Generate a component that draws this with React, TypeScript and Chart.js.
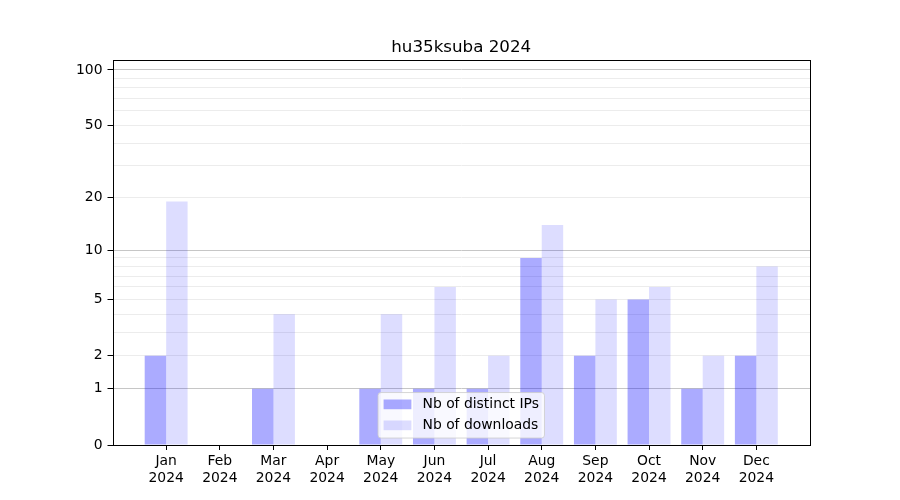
import React, { useEffect, useRef } from "react";
import { Chart, registerables, Scale } from "chart.js";

const TITLE = "hu35ksuba 2024";
const MONTHS = ["Jan", "Feb", "Mar", "Apr", "May", "Jun", "Jul", "Aug", "Sep", "Oct", "Nov", "Dec"];
const YEAR = "2024";
const DISTINCT_IPS = [2, 0, 1, 0, 1, 1, 1, 9, 2, 5, 1, 2];
const DOWNLOADS = [19, 0, 4, 0, 4, 6, 2, 14, 5, 6, 2, 8];
const SERIES_LABELS = ["Nb of distinct IPs", "Nb of downloads"];
const Y_LABELED_TICKS = [0, 1, 2, 5, 10, 20, 50, 100];
const Y_DECADE_GRID = [1, 10, 100];
const Y_MINOR_GRID = [2, 3, 4, 5, 6, 7, 8, 9, 20, 30, 40, 50, 60, 70, 80, 90];
const Y_MAX = 113.2;

const COLOR_IPS = "rgba(0, 0, 255, 0.33)";
const COLOR_DL = "rgba(0, 0, 255, 0.135)";
const FONT = "DejaVu Sans";
const FS = 13.9;

const Y_ALL_TICKS = Array.from(new Set([...Y_LABELED_TICKS, ...Y_DECADE_GRID, ...Y_MINOR_GRID])).sort((a, b) => a - b);

class Log1pScale extends Scale {
  static id = "log1p";
  static defaults = {};
  _startValue: number;
  _valueRange: number;

  determineDataLimits() {
    const { min, max } = (this as any).getMinMax(true);
    (this as any).min = Number.isFinite(min) ? min : 0;
    (this as any).max = Number.isFinite(max) ? max : 100;
  }
  buildTicks() {
    const self = this as any;
    return Y_ALL_TICKS.filter((v) => v >= self.min && v <= self.max).map((v) => ({ value: v }));
  }
  configure() {
    super.configure();
    const self = this as any;
    this._startValue = Math.log10(1 + self.min);
    this._valueRange = Math.log10(1 + self.max) - this._startValue;
  }
  getLabelForValue(value: number) {
    return String(value);
  }
  getPixelForValue(value: number) {
    const self = this as any;
    if (value === undefined || value === null || isNaN(value)) value = self.min;
    const v = Math.max(0, value);
    return self.getPixelForDecimal((Math.log10(1 + v) - this._startValue) / this._valueRange);
  }
  getValueForPixel(pixel: number) {
    const self = this as any;
    const d = self.getDecimalForPixel(pixel);
    return Math.pow(10, this._startValue + d * this._valueRange) - 1;
  }
}

Chart.register(...registerables, Log1pScale as any);

const framePlugin = {
  id: "frameAndLegend",
  afterDraw(chart: any) {
    const { ctx, chartArea } = chart;
    const { left, right, top, bottom } = chartArea;
    ctx.save();
    // spines
    ctx.strokeStyle = "#000";
    ctx.lineWidth = 1;
    ctx.strokeRect(Math.round(left) + 0.5, Math.round(top) + 0.5, Math.round(right) - Math.round(left), Math.round(bottom) - Math.round(top));

    // legend (matplotlib style)
    ctx.font = `${FS}px "${FONT}"`;
    const pad = 0.4 * FS;
    const handle = 2 * FS;
    const gap = 0.8 * FS;
    const textW = Math.max(...SERIES_LABELS.map((s) => ctx.measureText(s).width));
    const w = pad + handle + gap + textW + pad;
    const h = 45.5;
    const cx = (left + right) / 2;
    const x0 = cx - w / 2;
    const y0 = bottom - 0.5 * FS - h;
    const r = 3;
    ctx.beginPath();
    ctx.moveTo(x0 + r, y0);
    ctx.lineTo(x0 + w - r, y0);
    ctx.quadraticCurveTo(x0 + w, y0, x0 + w, y0 + r);
    ctx.lineTo(x0 + w, y0 + h - r);
    ctx.quadraticCurveTo(x0 + w, y0 + h, x0 + w - r, y0 + h);
    ctx.lineTo(x0 + r, y0 + h);
    ctx.quadraticCurveTo(x0, y0 + h, x0, y0 + h - r);
    ctx.lineTo(x0, y0 + r);
    ctx.quadraticCurveTo(x0, y0, x0 + r, y0);
    ctx.closePath();
    ctx.fillStyle = "rgba(255,255,255,0.8)";
    ctx.fill();
    ctx.strokeStyle = "rgba(204,204,204,0.8)";
    ctx.lineWidth = 1;
    ctx.stroke();

    const colors = [COLOR_IPS, COLOR_DL];
    const rowCenters = [y0 + 11.8, y0 + 32.8];
    SERIES_LABELS.forEach((label, i) => {
      const yc = rowCenters[i];
      ctx.fillStyle = colors[i];
      ctx.fillRect(x0 + pad, yc - 0.35 * FS, handle, 0.7 * FS);
      ctx.fillStyle = "#000";
      ctx.textBaseline = "middle";
      ctx.textAlign = "left";
      ctx.fillText(label, x0 + pad + handle + gap, yc);
    });
    ctx.restore();
  },
};

export default function App() {
  const canvasRef = useRef<HTMLCanvasElement | null>(null);

  useEffect(() => {
    if (!canvasRef.current) return;
    Chart.defaults.font.family = FONT;
    Chart.defaults.color = "#000";
    const chart = new Chart(canvasRef.current, {
      type: "bar",
      data: {
        datasets: [
          {
            label: SERIES_LABELS[0],
            data: DISTINCT_IPS.map((v, i) => ({ x: i + 1, y: v })),
            backgroundColor: COLOR_IPS,
            borderWidth: 0,
          },
          {
            label: SERIES_LABELS[1],
            data: DOWNLOADS.map((v, i) => ({ x: i + 1, y: v })),
            backgroundColor: COLOR_DL,
            borderWidth: 0,
          },
        ],
      },
      options: {
        responsive: false,
        animation: false,
        devicePixelRatio: 1,
        layout: { padding: { left: 0, right: 90, top: 0, bottom: 0 } },
        datasets: { bar: { categoryPercentage: 0.8, barPercentage: 1.0 } },
        plugins: {
          legend: { display: false },
          tooltip: { enabled: false },
          title: {
            display: true,
            text: TITLE,
            fullSize: false,
            color: "#000",
            font: { family: FONT, size: 16.7, weight: "normal", lineHeight: 1.2 },
            padding: { top: 37.5, bottom: 2.46 },
          },
        },
        scales: {
          x: {
            type: "linear",
            min: 0,
            max: 13,
            offset: false,
            border: { display: false },
            grid: {
              display: true,
              offset: false,
              drawOnChartArea: false,
              drawTicks: true,
              tickLength: 5,
              tickWidth: 1,
              tickColor: (ctx: any) => {
                const v = ctx.tick ? ctx.tick.value : -1;
                return v >= 1 && v <= 12 ? "#000" : "rgba(0,0,0,0)";
              },
            },
            ticks: {
              stepSize: 1,
              autoSkip: false,
              maxRotation: 0,
              minRotation: 0,
              padding: 3,
              color: "#000",
              font: { family: FONT, size: FS, lineHeight: 1.2 },
              callback: (v: any) => {
                const n = Number(v);
                return n >= 1 && n <= 12 && Number.isInteger(n) ? [MONTHS[n - 1], YEAR] : "";
              },
            },
            afterFit: (scale: any) => {
              scale.height = 55;
            },
          },
          y: {
            type: "log1p" as any,
            min: 0,
            max: Y_MAX,
            border: { display: false },
            grid: {
              display: true,
              offset: false,
              drawOnChartArea: true,
              drawTicks: true,
              tickLength: 5,
              lineWidth: 1,
              color: (ctx: any) => {
                const v = ctx.tick ? ctx.tick.value : -1;
                if (v === 0) return "rgba(0,0,0,0)";
                if (Y_DECADE_GRID.includes(v)) return "#c6c6c6";
                return "#ececec";
              },
              tickColor: (ctx: any) => {
                const v = ctx.tick ? ctx.tick.value : -1;
                return Y_LABELED_TICKS.includes(v) ? "#000" : "rgba(0,0,0,0)";
              },
            },
            ticks: {
              autoSkip: false,
              padding: 5,
              color: "#000",
              font: { family: FONT, size: FS },
              callback: (v: any) => (Y_LABELED_TICKS.includes(Number(v)) ? String(v) : ""),
            },
            afterFit: (scale: any) => {
              scale.width = 112.5;
            },
          },
        },
      } as any,
      plugins: [framePlugin],
    });
    return () => chart.destroy();
  }, []);

  return (
    <div style={{ position: "absolute", left: 0, top: 0, width: 900, height: 500 }}>
      <canvas ref={canvasRef} width={900} height={500} style={{ display: "block" }} />
    </div>
  );
}
